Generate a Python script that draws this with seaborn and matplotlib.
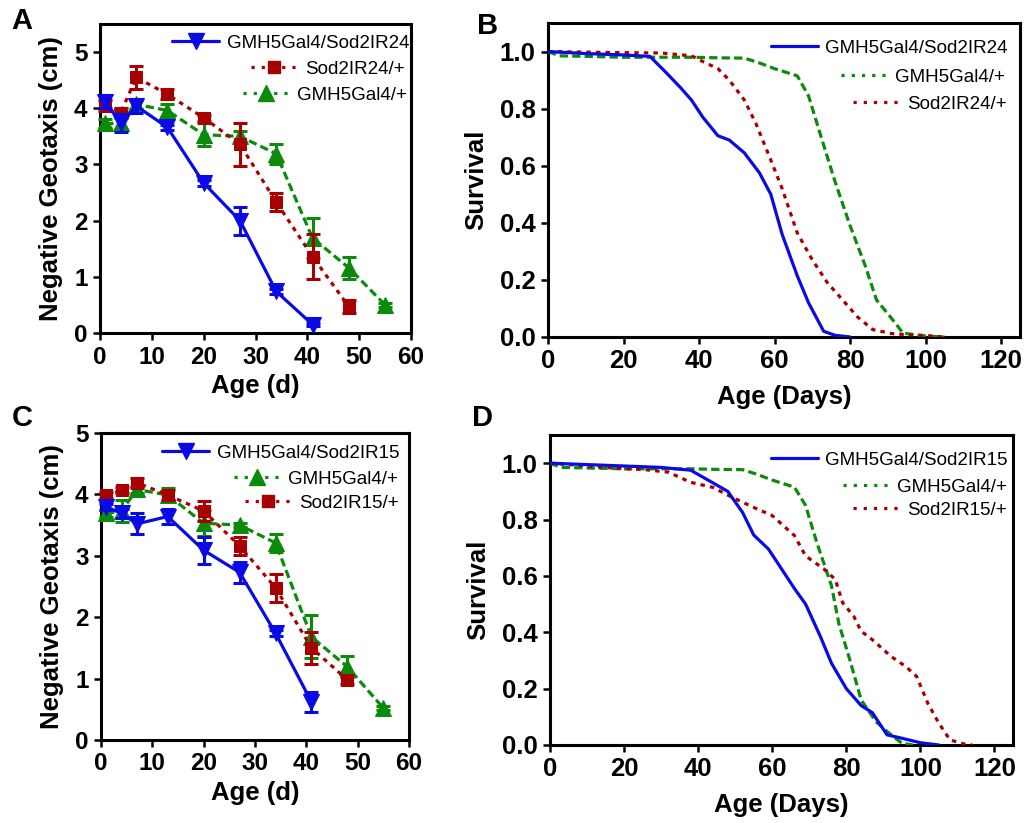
import numpy as np
import pandas as pd
import matplotlib
matplotlib.use("Agg")
import matplotlib.pyplot as plt
from matplotlib.lines import Line2D
import seaborn as sns

# ---------------- data ----------------
# Panel A: negative geotaxis (Sod2IR24)
ages_A = [1, 4, 7, 13, 20, 27, 34, 41, 48, 55]
a_exp = [4.12, 3.73, 4.04, 3.66, 2.67, 2.00, 0.74, 0.15]
a_exp_err = [0.12, 0.16, 0.12, 0.05, 0.05, 0.25, 0.05, 0.03]
a_rnai = [4.05, 3.92, 4.55, 4.25, 3.83, 3.36, 2.33, 1.36, 0.47]
a_rnai_err = [0.10, 0.08, 0.21, 0.09, 0.05, 0.38, 0.16, 0.40, 0.12]
a_gal4 = [3.73, 3.73, 4.07, 3.96, 3.53, 3.50, 3.19, 1.69, 1.16, 0.50]
a_gal4_err = [0.08, 0.10, 0.08, 0.12, 0.20, 0.10, 0.18, 0.36, 0.19, 0.03]

# Panel C: negative geotaxis (Sod2IR15)
ages_C = [1, 4, 7, 13, 20, 27, 34, 41, 48, 55]
c_exp = [3.80, 3.69, 3.52, 3.64, 3.09, 2.73, 1.74, 0.62]
c_exp_err = [0.05, 0.08, 0.17, 0.12, 0.22, 0.17, 0.05, 0.16]
c_gal4 = [3.69, 3.73, 4.08, 3.99, 3.53, 3.50, 3.21, 1.68, 1.19, 0.52]
c_gal4_err = [0.05, 0.18, 0.05, 0.12, 0.21, 0.03, 0.15, 0.35, 0.17, 0.03]
c_rnai = [3.99, 4.07, 4.19, 3.99, 3.73, 3.16, 2.48, 1.50, 0.98]
c_rnai_err = [0.05, 0.05, 0.08, 0.08, 0.17, 0.15, 0.23, 0.26, 0.06]

# Panel B: survival (Sod2IR24)
b_exp_days = [0, 10, 20, 27, 31, 35, 38, 41, 45, 48, 52, 56, 59, 62, 66, 69, 73, 76, 80]
b_exp_surv = [1.0, 0.993, 0.988, 0.983, 0.93, 0.875, 0.83, 0.77, 0.705, 0.69, 0.645,
              0.575, 0.50, 0.36, 0.215, 0.12, 0.02, 0.006, 0.0]
b_gal4_days = [0, 3, 10, 20, 38, 45, 52, 56, 60, 66, 69, 72, 76, 80, 84, 87, 91, 94, 98, 102, 105]
b_gal4_surv = [1.0, 0.985, 0.983, 0.98, 0.98, 0.978, 0.977, 0.96, 0.94, 0.915, 0.845,
               0.715, 0.545, 0.39, 0.25, 0.13, 0.065, 0.014, 0.006, 0.002, 0.0]
b_rnai_days = [0, 10, 20, 30, 38, 41, 45, 48, 52, 55, 59, 62, 66, 70, 74, 78, 82, 86, 91, 95, 100, 105]
b_rnai_surv = [1.0, 0.998, 0.996, 0.995, 0.985, 0.965, 0.94, 0.90, 0.83, 0.75, 0.62,
               0.52, 0.365, 0.27, 0.19, 0.13, 0.07, 0.026, 0.012, 0.008, 0.005, 0.0]

# Panel D: survival (Sod2IR15)
d_exp_days = [0, 10, 20, 30, 38, 44, 48, 52, 55, 59, 62, 66, 69, 73, 76, 80, 84, 87, 91, 95, 100, 105]
d_exp_surv = [1.0, 0.995, 0.99, 0.985, 0.975, 0.93, 0.90, 0.825, 0.745, 0.695, 0.635,
              0.555, 0.50, 0.385, 0.29, 0.20, 0.14, 0.115, 0.036, 0.024, 0.008, 0.0]
d_gal4_days = [0, 3, 10, 20, 38, 45, 52, 56, 60, 66, 69, 72, 76, 78, 81, 84, 88, 91, 95, 98]
d_gal4_surv = [1.0, 0.985, 0.983, 0.98, 0.98, 0.978, 0.977, 0.96, 0.94, 0.915, 0.85,
               0.72, 0.565, 0.43, 0.30, 0.16, 0.083, 0.048, 0.006, 0.0]
d_rnai_days = [0, 10, 20, 25, 32, 38, 44, 49, 56, 60, 66, 69, 74, 77, 79, 82, 84, 87,
               92, 96, 99, 102, 105, 108, 112, 114]
d_rnai_surv = [1.0, 0.99, 0.98, 0.978, 0.968, 0.932, 0.914, 0.88, 0.837, 0.814, 0.743,
               0.671, 0.624, 0.588, 0.505, 0.457, 0.404, 0.374, 0.315, 0.279, 0.243,
               0.148, 0.077, 0.018, 0.003, 0.0]

lab_exp24 = "GMH5Gal4/Sod2IR24"
lab_exp15 = "GMH5Gal4/Sod2IR15"
lab_gal4 = "GMH5Gal4/+"
lab_rnai24 = "Sod2IR24/+"
lab_rnai15 = "Sod2IR15/+"

# ---------------- style ----------------
sns.set_style("ticks")
plt.rcParams["font.family"] = ["Liberation Sans", "DejaVu Sans"]
plt.rcParams["text.color"] = "black"
plt.rcParams["axes.labelcolor"] = "black"
plt.rcParams["axes.linewidth"] = 2.2
plt.rcParams["xtick.major.width"] = 1.8
plt.rcParams["ytick.major.width"] = 1.8
plt.rcParams["xtick.major.size"] = 5
plt.rcParams["ytick.major.size"] = 5
plt.rcParams["xtick.direction"] = "out"
plt.rcParams["ytick.direction"] = "out"
plt.rcParams["xtick.color"] = "black"
plt.rcParams["ytick.color"] = "black"
plt.rcParams["xtick.labelcolor"] = "black"
plt.rcParams["ytick.labelcolor"] = "black"
plt.rcParams["axes.edgecolor"] = "black"

BLUE = "#0a0ae6"
RED = "#a80000"
GREEN = "#0c8a0c"

W, H = 1024, 823
fig = plt.figure(figsize=(W / 100, H / 100), dpi=100)


def box(l, t, r, b):
    return [l / W, 1 - b / H, (r - l) / W, (b - t) / H]


axA = fig.add_axes(box(100, 24, 411, 333))
axB = fig.add_axes(box(548, 23, 1020, 337))
axC = fig.add_axes(box(101, 433, 409, 740))
axD = fig.add_axes(box(550, 435, 1013, 745))

LW = 2.3
DOT = (0, (1.4, 1.6))
DASH = (0, (2.6, 1.3))


def geo_series(ax, ages, vals, errs, color, marker, ms, ls, z):
    n = len(vals)
    df = pd.DataFrame({"age": ages[:n], "val": vals})
    ax.errorbar(ages[:n], vals, yerr=errs, fmt="none", ecolor=color,
                elinewidth=2.2, capsize=5, capthick=2.2, zorder=z, clip_on=False)
    sns.lineplot(data=df, x="age", y="val", ax=ax, color=color, marker=marker,
                 markersize=ms, markeredgecolor=color, linewidth=LW, linestyle=ls,
                 estimator=None, errorbar=None, zorder=z + 0.5, clip_on=False)


def surv_series(ax, days, surv, color, ls, z):
    df = pd.DataFrame({"day": days, "surv": surv})
    sns.lineplot(data=df, x="day", y="surv", ax=ax, color=color, linewidth=LW,
                 linestyle=ls, estimator=None, errorbar=None, zorder=z)


# Panel A
geo_series(axA, ages_A, a_gal4, a_gal4_err, GREEN, "^", 11, DASH, 3)
geo_series(axA, ages_A, a_rnai, a_rnai_err, RED, "s", 9, DOT, 4)
geo_series(axA, ages_A, a_exp, a_exp_err, BLUE, "v", 11, "-", 5)
# Panel C
geo_series(axC, ages_C, c_gal4, c_gal4_err, GREEN, "^", 11, DASH, 3)
geo_series(axC, ages_C, c_rnai, c_rnai_err, RED, "s", 9, DOT, 4)
geo_series(axC, ages_C, c_exp, c_exp_err, BLUE, "v", 11, "-", 5)
# Panel B
surv_series(axB, b_gal4_days, b_gal4_surv, GREEN, DASH, 3)
surv_series(axB, b_rnai_days, b_rnai_surv, RED, DOT, 4)
surv_series(axB, b_exp_days, b_exp_surv, BLUE, "-", 5)
# Panel D
surv_series(axD, d_gal4_days, d_gal4_surv, GREEN, DASH, 3)
surv_series(axD, d_rnai_days, d_rnai_surv, RED, DOT, 4)
surv_series(axD, d_exp_days, d_exp_surv, BLUE, "-", 5)

LAB_FS = 18.5

for ax in (axA, axC):
    ax.set_xlim(0, 60)
    ax.set_xticks(np.arange(0, 61, 10))
    ax.set_xlabel("Age (d)", fontsize=LAB_FS, fontweight="bold", labelpad=4)
    ax.set_ylabel("Negative Geotaxis (cm)", fontsize=LAB_FS, fontweight="bold", labelpad=8)
    ax.tick_params(axis="both", labelsize=17.5, pad=4)
axA.set_ylim(0, 5.5)
axC.set_ylim(0, 5)
axA.set_yticks(range(0, 6))
axC.set_yticks(range(0, 6))

for ax in (axB, axD):
    ax.set_xlim(0, 125)
    ax.set_ylim(0, 1.1)
    ax.set_xticks(np.arange(0, 121, 20))
    ax.set_yticks(np.arange(0, 1.01, 0.2))
    ax.set_yticklabels([f"{v:.1f}" for v in np.arange(0, 1.01, 0.2)])
    ax.set_xlabel("Age (Days)", fontsize=LAB_FS, fontweight="bold", labelpad=8)
    ax.set_ylabel("Survival", fontsize=LAB_FS, fontweight="bold", labelpad=8)
    ax.tick_params(axis="both", labelsize=18.5, pad=4)

for ax in (axA, axB, axC, axD):
    for s in ax.spines.values():
        s.set_visible(True)
        s.set_linewidth(2.2)
        s.set_color("black")
    for t in ax.get_xticklabels() + ax.get_yticklabels():
        t.set_fontweight("bold")
        t.set_color("black")
    ax.set_facecolor("white")


# ---------------- legends (right-aligned rows) ----------------
def row_legend(handle, label, right_px, y_px):
    fig.legend([handle], [label], loc="center right",
               bbox_to_anchor=(right_px / W, 1 - y_px / H),
               bbox_transform=fig.transFigure, frameon=False, borderpad=0,
               borderaxespad=0, handlelength=2.5, handletextpad=0.4,
               fontsize=13.5, numpoints=1, labelcolor="black")


LEG_DOT = (0, (1, 2.2))
row_legend(Line2D([], [], color=BLUE, lw=LW, ls="-", marker="v", ms=11), lab_exp24, 409, 43)
row_legend(Line2D([], [], color=RED, lw=LW, ls=LEG_DOT, marker="s", ms=9), lab_rnai24, 405, 69)
row_legend(Line2D([], [], color=GREEN, lw=LW, ls=LEG_DOT, marker="^", ms=11), lab_gal4, 407, 95)

row_legend(Line2D([], [], color=BLUE, lw=LW, ls="-", marker="v", ms=11), lab_exp15, 399, 453)
row_legend(Line2D([], [], color=GREEN, lw=LW, ls=LEG_DOT, marker="^", ms=11), lab_gal4, 398, 479)
row_legend(Line2D([], [], color=RED, lw=LW, ls=LEG_DOT, marker="s", ms=9), lab_rnai15, 399, 503)

row_legend(Line2D([], [], color=BLUE, lw=LW, ls="-"), lab_exp24, 1008, 48)
row_legend(Line2D([], [], color=GREEN, lw=LW, ls=LEG_DOT), lab_gal4, 1005, 77)
row_legend(Line2D([], [], color=RED, lw=LW, ls=LEG_DOT), lab_rnai24, 1007, 104)

row_legend(Line2D([], [], color=BLUE, lw=LW, ls="-"), lab_exp15, 1008, 460)
row_legend(Line2D([], [], color=GREEN, lw=LW, ls=LEG_DOT), lab_gal4, 1007, 487)
row_legend(Line2D([], [], color=RED, lw=LW, ls=LEG_DOT), lab_rnai15, 1007, 510)

# panel letters
for txt, x, y in (("A", 22, 21), ("B", 488, 26), ("C", 22, 418), ("D", 483, 418)):
    fig.text(x / W, 1 - y / H, txt, ha="center", va="center",
             fontsize=21, fontweight="bold", color="black")

fig.savefig("out.png", dpi=100, facecolor="white")
